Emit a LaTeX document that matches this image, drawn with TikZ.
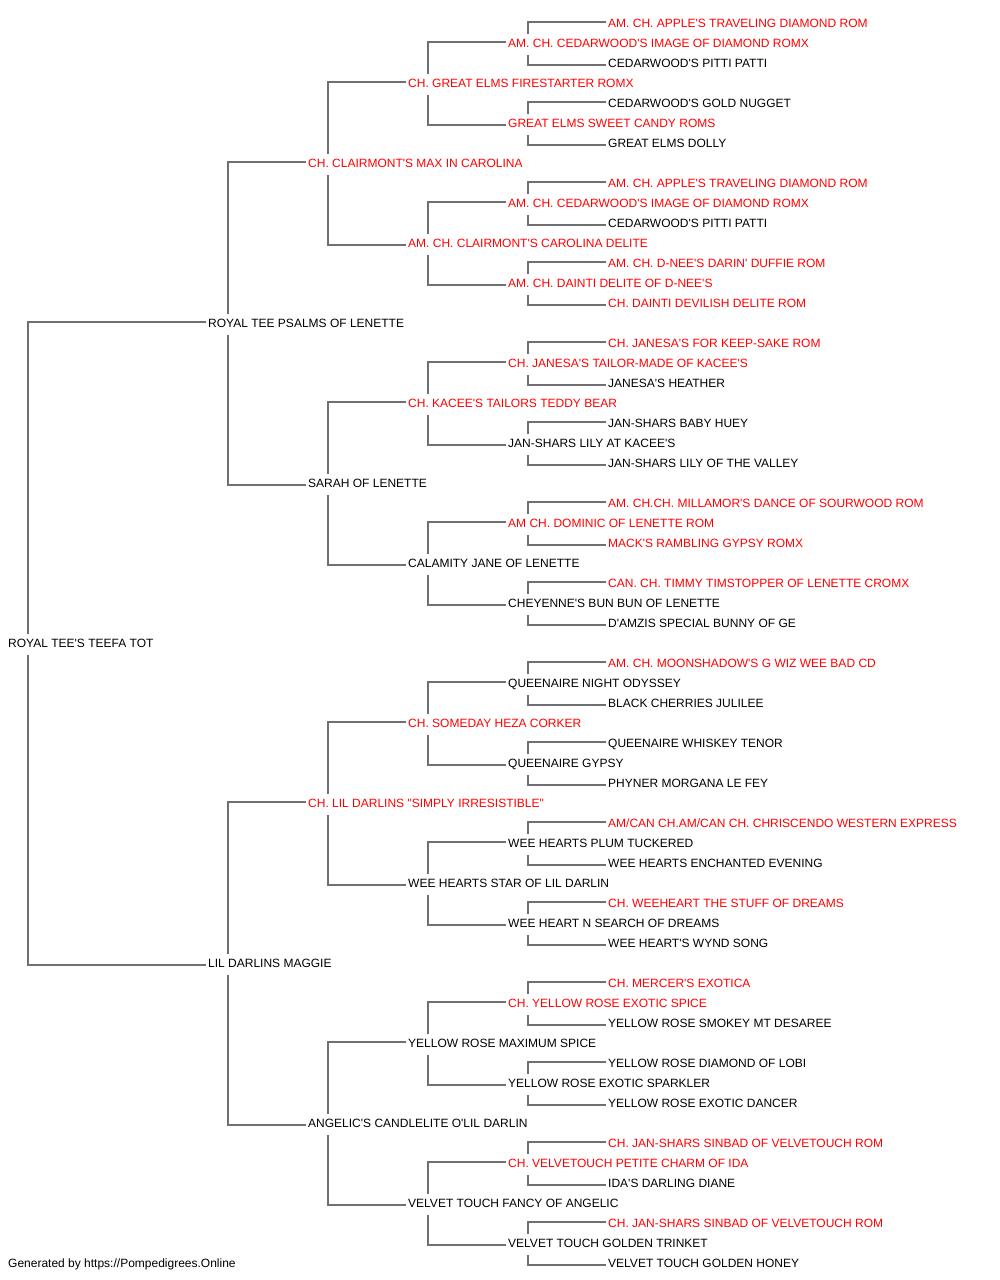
\documentclass[tikz,border=0pt]{standalone}
\usepackage{fontspec}
\setmainfont{Liberation Sans}[Ligatures=TeXOff]
\definecolor{champ}{RGB}{255,0,0}
\definecolor{lnk}{RGB}{112,112,112}
\begin{document}
\begin{tikzpicture}[x=1pt,y=-1pt,
  nm/.style={anchor=west,inner sep=0pt,yshift=-0.6pt,text height=8.6pt,text depth=0pt,font=\fontsize{12}{14}\selectfont,text=black},
  ch/.style={nm,text=champ},
  link/.style={draw=lnk,line width=1.5pt}]
\useasboundingbox[fill=white] (0,0) rectangle (1000,1280);
% generation 0
\node[nm] (n1) at (8,643) {ROYAL TEE'S TEEFA TOT};
% generation 1
\node[nm] (n2) at (208,323) {ROYAL TEE PSALMS OF LENETTE};
\node[nm] (n3) at (208,963) {LIL DARLINS MAGGIE};
% generation 2
\node[ch] (n4) at (308,163) {CH. CLAIRMONT'S MAX IN CAROLINA};
\node[nm] (n5) at (308,483) {SARAH OF LENETTE};
\node[ch] (n6) at (308,803) {CH. LIL DARLINS "SIMPLY IRRESISTIBLE"};
\node[nm] (n7) at (308,1123) {ANGELIC'S CANDLELITE O'LIL DARLIN};
% generation 3
\node[ch] (n8) at (408,83) {CH. GREAT ELMS FIRESTARTER ROMX};
\node[ch] (n9) at (408,243) {AM. CH. CLAIRMONT'S CAROLINA DELITE};
\node[ch] (n10) at (408,403) {CH. KACEE'S TAILORS TEDDY BEAR};
\node[nm] (n11) at (408,563) {CALAMITY JANE OF LENETTE};
\node[ch] (n12) at (408,723) {CH. SOMEDAY HEZA CORKER};
\node[nm] (n13) at (408,883) {WEE HEARTS STAR OF LIL DARLIN};
\node[nm] (n14) at (408,1043) {YELLOW ROSE MAXIMUM SPICE};
\node[nm] (n15) at (408,1203) {VELVET TOUCH FANCY OF ANGELIC};
% generation 4
\node[ch] (n16) at (508,43) {AM. CH. CEDARWOOD'S IMAGE OF DIAMOND ROMX};
\node[ch] (n17) at (508,123) {GREAT ELMS SWEET CANDY ROMS};
\node[ch] (n18) at (508,203) {AM. CH. CEDARWOOD'S IMAGE OF DIAMOND ROMX};
\node[ch] (n19) at (508,283) {AM. CH. DAINTI DELITE OF D-NEE'S};
\node[ch] (n20) at (508,363) {CH. JANESA'S TAILOR-MADE OF KACEE'S};
\node[nm] (n21) at (508,443) {JAN-SHARS LILY AT KACEE'S};
\node[ch] (n22) at (508,523) {AM CH. DOMINIC OF LENETTE ROM};
\node[nm] (n23) at (508,603) {CHEYENNE'S BUN BUN OF LENETTE};
\node[nm] (n24) at (508,683) {QUEENAIRE NIGHT ODYSSEY};
\node[nm] (n25) at (508,763) {QUEENAIRE GYPSY};
\node[nm] (n26) at (508,843) {WEE HEARTS PLUM TUCKERED};
\node[nm] (n27) at (508,923) {WEE HEART N SEARCH OF DREAMS};
\node[ch] (n28) at (508,1003) {CH. YELLOW ROSE EXOTIC SPICE};
\node[nm] (n29) at (508,1083) {YELLOW ROSE EXOTIC SPARKLER};
\node[ch] (n30) at (508,1163) {CH. VELVETOUCH PETITE CHARM OF IDA};
\node[nm] (n31) at (508,1243) {VELVET TOUCH GOLDEN TRINKET};
% generation 5
\node[ch] (n32) at (608,23) {AM. CH. APPLE'S TRAVELING DIAMOND ROM};
\node[nm] (n33) at (608,63) {CEDARWOOD'S PITTI PATTI};
\node[nm] (n34) at (608,103) {CEDARWOOD'S GOLD NUGGET};
\node[nm] (n35) at (608,143) {GREAT ELMS DOLLY};
\node[ch] (n36) at (608,183) {AM. CH. APPLE'S TRAVELING DIAMOND ROM};
\node[nm] (n37) at (608,223) {CEDARWOOD'S PITTI PATTI};
\node[ch] (n38) at (608,263) {AM. CH. D-NEE'S DARIN' DUFFIE ROM};
\node[ch] (n39) at (608,303) {CH. DAINTI DEVILISH DELITE ROM};
\node[ch] (n40) at (608,343) {CH. JANESA'S FOR KEEP-SAKE ROM};
\node[nm] (n41) at (608,383) {JANESA'S HEATHER};
\node[nm] (n42) at (608,423) {JAN-SHARS BABY HUEY};
\node[nm] (n43) at (608,463) {JAN-SHARS LILY OF THE VALLEY};
\node[ch] (n44) at (608,503) {AM. CH.CH. MILLAMOR'S DANCE OF SOURWOOD ROM};
\node[ch] (n45) at (608,543) {MACK'S RAMBLING GYPSY ROMX};
\node[ch] (n46) at (608,583) {CAN. CH. TIMMY TIMSTOPPER OF LENETTE CROMX};
\node[nm] (n47) at (608,623) {D'AMZIS SPECIAL BUNNY OF GE};
\node[ch] (n48) at (608,663) {AM. CH. MOONSHADOW'S G WIZ WEE BAD CD};
\node[nm] (n49) at (608,703) {BLACK CHERRIES JULILEE};
\node[nm] (n50) at (608,743) {QUEENAIRE WHISKEY TENOR};
\node[nm] (n51) at (608,783) {PHYNER MORGANA LE FEY};
\node[ch] (n52) at (608,823) {AM/CAN CH.AM/CAN CH. CHRISCENDO WESTERN EXPRESS};
\node[nm] (n53) at (608,863) {WEE HEARTS ENCHANTED EVENING};
\node[ch] (n54) at (608,903) {CH. WEEHEART THE STUFF OF DREAMS};
\node[nm] (n55) at (608,943) {WEE HEART'S WYND SONG};
\node[ch] (n56) at (608,983) {CH. MERCER'S EXOTICA};
\node[nm] (n57) at (608,1023) {YELLOW ROSE SMOKEY MT DESAREE};
\node[nm] (n58) at (608,1063) {YELLOW ROSE DIAMOND OF LOBI};
\node[nm] (n59) at (608,1103) {YELLOW ROSE EXOTIC DANCER};
\node[ch] (n60) at (608,1143) {CH. JAN-SHARS SINBAD OF VELVETOUCH ROM};
\node[nm] (n61) at (608,1183) {IDA'S DARLING DIANE};
\node[ch] (n62) at (608,1223) {CH. JAN-SHARS SINBAD OF VELVETOUCH ROM};
\node[nm] (n63) at (608,1263) {VELVET TOUCH GOLDEN HONEY};
% footer
\node[nm] (foot) at (8,1263) {Generated by https://Pompedigrees.Online};
% connectors: child k to parents 2k and 2k+1
\foreach \k in {1,...,31}{
  \pgfmathtruncatemacro\pa{2*\k}
  \pgfmathtruncatemacro\pb{2*\k+1}
  \draw[link] ([shift={(-2,-1.4)}]n\pa.west) -| ([shift={(20,-9.4)}]n\k.west);
  \draw[link] ([shift={(-2,1.6)}]n\pb.west) -| ([shift={(20,11.6)}]n\k.west);
}
\end{tikzpicture}
\end{document}
